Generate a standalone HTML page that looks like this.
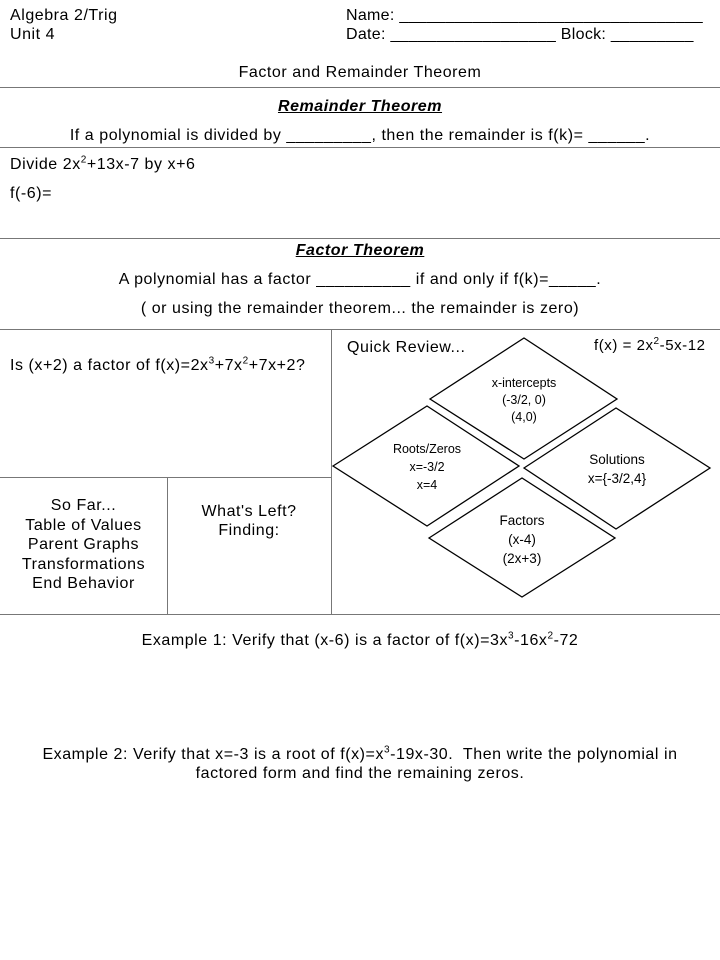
<!DOCTYPE html>
<html><head><style>
body{margin:0;width:720px;height:960px;background:#fff;font-family:"Liberation Sans",sans-serif;color:#000;position:relative;overflow:hidden}
.t{position:absolute;font-size:16px;letter-spacing:0.55px;white-space:nowrap;line-height:19px}
.c{text-align:center}
.h{position:absolute;height:1px;background:#777}
.v{position:absolute;width:1px;background:#777}
sup{font-size:10px;line-height:0}
</style></head><body>
<div class="t" style="left:10px;top:6px">Algebra 2/Trig</div>
<div class="t" style="left:10px;top:25px">Unit 4</div>
<div class="t" style="left:346px;top:6px;letter-spacing:0.3px">Name: _________________________________</div>
<div class="t" style="left:346px;top:25px;letter-spacing:0.3px">Date: __________________ Block: _________</div>
<div class="t c" style="left:0;width:720px;top:63px">Factor and Remainder Theorem</div>
<div class="h" style="left:0;width:720px;top:87px"></div>
<div class="t c" style="left:0;width:720px;top:97px;font-weight:bold;font-style:italic;text-decoration:underline">Remainder Theorem</div>
<div class="t c" style="left:0;width:720px;top:126px">If a polynomial is divided by _________, then the remainder is f(k)= ______.</div>
<div class="h" style="left:0;width:720px;top:147px"></div>
<div class="t" style="left:10px;top:155px">Divide 2x<sup>2</sup>+13x-7 by x+6</div>
<div class="t" style="left:10px;top:184px">f(-6)=</div>
<div class="h" style="left:0;width:720px;top:238px"></div>
<div class="t c" style="left:0;width:720px;top:241px;font-weight:bold;font-style:italic;text-decoration:underline">Factor Theorem</div>
<div class="t c" style="left:0;width:720px;top:270px">A polynomial has a factor __________ if and only if f(k)=_____.</div>
<div class="t c" style="left:0;width:720px;top:299px">( or using the remainder theorem... the remainder is zero)</div>
<div class="h" style="left:0;width:720px;top:329px"></div>
<div class="v" style="left:331px;top:329px;height:285px"></div>
<div class="h" style="left:0;width:331px;top:477px"></div>
<div class="v" style="left:167px;top:477px;height:137px"></div>
<div class="h" style="left:0;width:720px;top:614px"></div>
<div class="t" style="left:10px;top:356px">Is (x+2) a factor of f(x)=2x<sup>3</sup>+7x<sup>2</sup>+7x+2?</div>
<div class="t c" style="left:0;width:167px;top:496px;line-height:19.5px">So Far...<br>Table of Values<br>Parent Graphs<br>Transformations<br>End Behavior</div>
<div class="t c" style="left:167px;width:164px;top:502px">What's Left?<br>Finding:</div>
<div class="t" style="left:347px;top:338px">Quick Review...</div>
<div class="t" style="left:594px;top:336px;font-size:15px">f(x) = 2x<sup>2</sup>-5x-12</div>
<svg style="position:absolute;left:0;top:0" width="720" height="960">
<g fill="none" stroke="#000" stroke-width="1.3">
<polygon points="430,399 524,338 617,399 524,459"/>
<polygon points="333,466 427,406 519,466 427,526"/>
<polygon points="524,468 616,408 710,468 616,529"/>
<polygon points="429,538 522,478 615,538 522,597"/>
</g>
<g font-family="Liberation Sans" font-size="12.5" text-anchor="middle">
<text x="524" y="387">x-intercepts</text><text x="524" y="404">(-3/2, 0)</text><text x="524" y="421">(4,0)</text>
<text x="427" y="453">Roots/Zeros</text><text x="427" y="471">x=-3/2</text><text x="427" y="489">x=4</text>
<text x="617" y="464" font-size="13.5">Solutions</text><text x="617" y="483" font-size="13.5">x={-3/2,4}</text>
<text x="522" y="525" font-size="13.5">Factors</text><text x="522" y="544" font-size="13.5">(x-4)</text><text x="522" y="563" font-size="13.5">(2x+3)</text>
</g></svg>
<div class="t c" style="left:0;width:720px;top:631px">Example 1: Verify that (x-6) is a factor of f(x)=3x<sup>3</sup>-16x<sup>2</sup>-72</div>
<div class="t c" style="left:0;width:720px;top:745px">Example 2: Verify that x=-3 is a root of f(x)=x<sup>3</sup>-19x-30.&nbsp; Then write the polynomial in<br>factored form and find the remaining zeros.</div>
</body></html>
